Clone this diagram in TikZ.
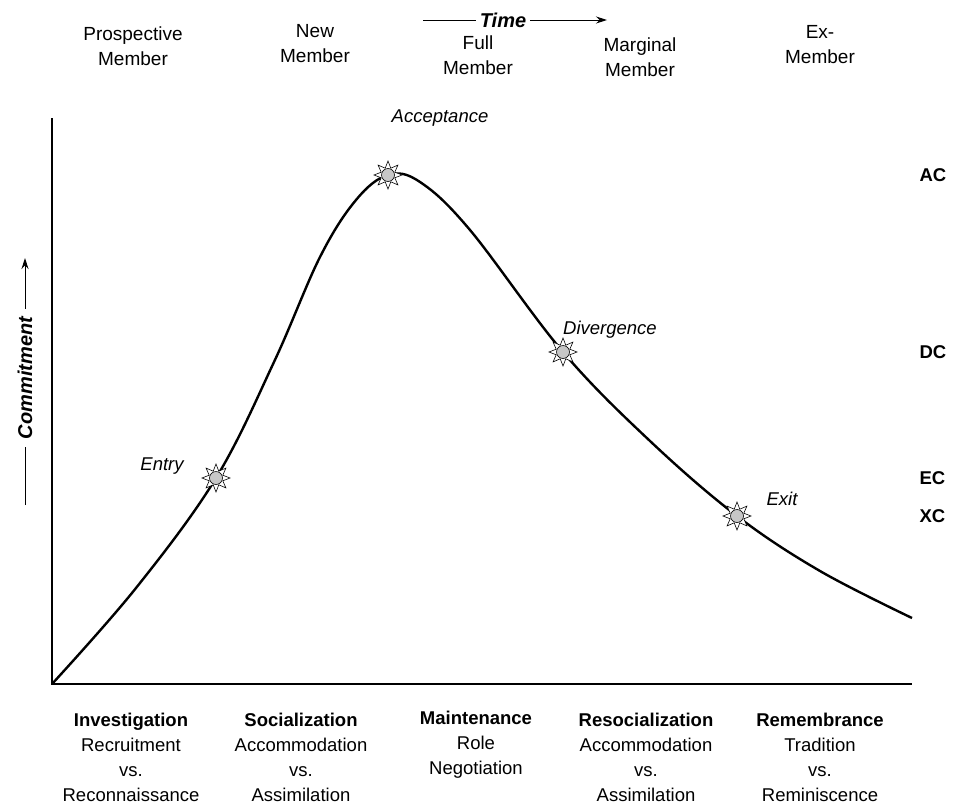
\documentclass[tikz,border=0pt]{standalone}
\usepackage{fontspec}
\setmainfont{Liberation Sans}
\usetikzlibrary{shapes.geometric,arrows.meta}
\tikzset{
 hdr/.style={align=center,font=\fontsize{19}{25}\selectfont},
 phase/.style={align=center,font=\fontsize{18.5}{25}\selectfont},
 evt/.style={font=\fontsize{18.5}{22}\selectfont\itshape},
 lvl/.style={anchor=west,font=\fontsize{18.5}{22}\selectfont\bfseries},
 axlab/.style={font=\fontsize{20}{22}\selectfont\bfseries\itshape},
 spark/.style={star,star points=8,star point ratio=1.9,minimum size=28pt,
   inner sep=0pt,draw=black,fill=white,line width=0.6pt},
 dot/.style={circle,minimum size=13pt,inner sep=0pt,draw=black,
   fill=black!22,line width=0.6pt},
 tip/.style={-{Stealth[length=11pt,width=7pt]}},
}

\begin{document}
\begin{tikzpicture}[x=1pt,y=-1pt]
        \useasboundingbox (0,0) rectangle (963,811);

        % time axis label
        \node[axlab,inner sep=4pt] (time) at (503,20) {Time};
        \coordinate (tl) at (423,20);
        \coordinate (tr) at (607,20);
        \draw[line width=1pt] (tl) -- (time.west);
        \draw[line width=1pt,tip] (time.east) -- (tr);

        % commitment axis label
        \node[axlab,rotate=90,inner sep=8pt] (cmt) at (25,378) {Commitment};
        \coordinate (cl) at (25,505);
        \coordinate (ch) at (25,258);
        \draw[line width=1pt] (cl) -- (cmt.west);
        \draw[line width=1pt,tip] (cmt.east) -- (ch);

        % member headers
        \node[hdr] (pros) at (133,46) {Prospective\\Member};
        \node[hdr] (new) at (315,44) {New\\Member};
        \node[hdr] (full) at (478,55) {Full\\Member};
        \node[hdr] (marg) at (640,57) {Marginal\\Member};
        \node[hdr] (ex) at (820,45) {Ex-\\Member};

        % axes
        \coordinate (o) at (52,684);
        \coordinate (ytop) at (52,118);
        \coordinate (xend) at (912,684);
        \draw[line width=1.5pt] (ytop) -- (o) -- (xend);

        % commitment curve
        \draw[line width=2.4pt] plot[smooth,tension=0.6] coordinates {
          (52,684) (136,588) (216,478) (274,362) (320,257) (356,200)
          (388,175) (420,182) (470,230) (563,352) (650,441) (737,516)
          (820,571) (912,618)};

        % events
        \node[spark] (entry) at (216,478) {};
        \node[dot] at (entry) {};
        \node[spark] (acc) at (388,175) {};
        \node[dot] at (acc) {};
        \node[spark] (div) at (563,352) {};
        \node[dot] at (div) {};
        \node[spark] (exit) at (737,516) {};
        \node[dot] at (exit) {};

        \node[evt] (entrylab) at (162,466) {Entry};
        \node[evt] (acclab) at (440,118) {Acceptance};
        \node[evt] (divlab) at (610,330) {Divergence};
        \node[evt] (exitlab) at (782,499) {Exit};

        % criteria
        \node[lvl] (ac) at (916,175) {AC};
        \node[lvl] (dc) at (916,352) {DC};
        \node[lvl] (ec) at (916,478) {EC};
        \node[lvl] (xc) at (916,516) {XC};

        % phases
        \node[phase] (inv) at (131,757) {\textbf{Investigation}\\Recruitment\\vs.\\Reconnaissance};
        \node[phase] (soc) at (301,757) {\textbf{Socialization}\\Accommodation\\vs.\\Assimilation};
        \node[phase] (mnt) at (476,745) {\textbf{Maintenance}\\Role\\Negotiation};
        \node[phase] (reso) at (646,757) {\textbf{Resocialization}\\Accommodation\\vs.\\Assimilation};
        \node[phase] (rem) at (820,757) {\textbf{Remembrance}\\Tradition\\vs.\\Reminiscence};
    \end{tikzpicture}
\end{document}
